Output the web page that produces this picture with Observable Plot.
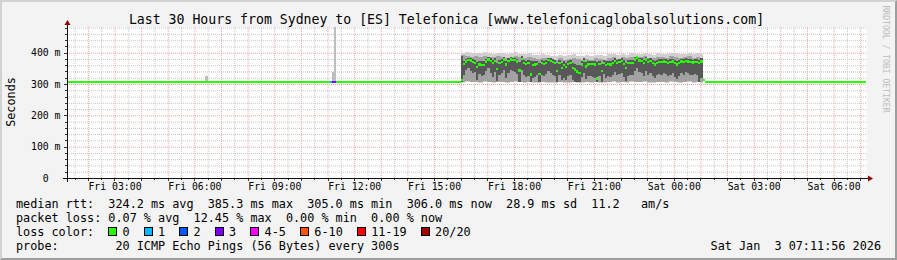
<!DOCTYPE html>
<html>
<head>
<meta charset="utf-8">
<script src="https://cdn.jsdelivr.net/npm/d3@7"></script>
<script src="https://cdn.jsdelivr.net/npm/@observablehq/plot@0.6"></script>
<style>
  html, body { margin: 0; padding: 0; background: #f3f3f3; }
  #wrap { position: relative; width: 897px; height: 260px; background: #f3f3f3; overflow: hidden;
          font-family: "DejaVu Sans Mono", monospace; color: #000; }
  #chart { position: absolute; left: 0; top: 0; }
  #frame { position: absolute; left: 0; top: 0; width: 897px; height: 260px; box-sizing: border-box;
           border-top: 2px solid #d2d2d2; border-left: 2px solid #d2d2d2;
           border-right: 2px solid #9e9e9e; border-bottom: 2px solid #9e9e9e; pointer-events: none; }
  #title { position: absolute; left: -2px; width: 897px; top: 13px; text-align: center;
           font-size: 13.2px; line-height: 13.2px; white-space: pre; }
  .lg { position: absolute; left: 16px; font-size: 11.8px; line-height: 14px; white-space: pre; }
  #stamp { position: absolute; right: 16px; top: 239px; font-size: 11.8px; line-height: 14px; white-space: pre; }
  #ylab { position: absolute; left: 11px; top: 102px; transform: translate(-50%, -50%) rotate(-90deg);
          font-size: 11.8px; white-space: nowrap; }
  #mark { position: absolute; left: 886px; top: 59px; transform: translate(-50%, -50%) rotate(90deg);
          font-size: 8.1px; color: #bcbcbc; white-space: nowrap; }
  .item { display: inline-block; margin-right: 2ch; }
  .box { display: inline-block; width: 7px; height: 7px; border: 1px solid #000; margin-right: calc(2ch - 9px); }
</style>
</head>
<body>
<div id="wrap">
  <div id="chart"></div>
  <div id="title"></div>
  <div id="ylab"></div>
  <div id="mark"></div>
  <div id="l1" class="lg" style="top:197px"></div>
  <div id="l2" class="lg" style="top:211px"></div>
  <div id="l3" class="lg" style="top:225px"></div>
  <div id="l4" class="lg" style="top:239px"></div>
  <div id="stamp"></div>
  <div id="frame"></div>
</div>
<script>
// ---------------- data ----------------
const titleText = "Last 30 Hours from Sydney to [ES] Telefonica [www.telefonicaglobalsolutions.com]";
const yLabel = "Seconds";
const watermark = "RRDTOOL / TOBI OETIKER";
const stampText = "Sat Jan  3 07:11:56 2026";

const domainStart = "2026-01-02T01:13";
const domainEnd = "2026-01-03T07:13";

const yTicks = [0, 100, 200, 300, 400];

// flat median runs (ms) with lost pings out of 20
const runStart = ["2026-01-02T01:13", "2026-01-02T11:05", "2026-01-02T11:10", "2026-01-02T11:20", "2026-01-03T01:05", "2026-01-03T01:10"];
const runEnd   = ["2026-01-02T11:05", "2026-01-02T11:10", "2026-01-02T11:20", "2026-01-02T16:00", "2026-01-03T01:10", "2026-01-03T07:13"];
const runMs    = [306.5, 307, 307, 306.5, 312, 306.5];
const runLoss  = [0, 1, 3, 0, 0, 0];

// high-latency period: median and inner quartiles every 5 minutes from 16:00
const evStart = "2026-01-02T16:00";
const evMedian = [
  312, 363, 372, 376, 375, 371, 368, 355, 362, 360,
  361, 372, 378, 373, 366, 373, 347, 366, 370, 378,
  362, 373, 378, 376, 376, 372, 343, 380, 368, 365,
  366, 330, 360, 362, 365, 331, 366, 365, 368, 376,
  373, 370, 368, 341, 368, 352, 360, 355, 363, 366,
  352, 346, 340, 336, 362, 373, 356, 362, 363, 363,
  362, 318, 363, 341, 368, 360, 363, 362, 368, 373,
  368, 370, 373, 365, 352, 366, 368, 368, 378, 385,
  375, 373, 366, 378, 370, 373, 366, 362, 368, 370,
  370, 372, 370, 368, 370, 372, 366, 362, 368, 372,
  370, 374, 372, 370, 369, 371, 370, 368, 372
];
const evQ75 = [
  390, 374, 381, 384, 383, 380, 377, 370, 374, 372,
  372, 380, 386, 382, 376, 382, 366, 376, 379, 386,
  374, 382, 386, 384, 384, 381, 370, 388, 378, 375,
  376, 372, 372, 373, 375, 368, 376, 375, 378, 384,
  382, 379, 378, 366, 378, 368, 372, 368, 374, 376,
  368, 364, 362, 360, 374, 382, 370, 373, 374, 374,
  373, 370, 374, 365, 378, 372, 374, 373, 378, 382,
  378, 379, 382, 376, 368, 376, 378, 378, 386, 390,
  384, 382, 376, 386, 379, 382, 376, 373, 378, 379,
  379, 381, 379, 378, 379, 381, 376, 373, 378, 381,
  379, 383, 381, 379, 378, 380, 379, 378, 382
];
const evQ25 = [
  305, 330, 345, 350, 340, 335, 338, 312, 332, 325,
  328, 342, 350, 335, 322, 338, 310, 330, 336, 345,
  320, 336, 346, 340, 338, 332, 306, 345, 328, 322,
  325, 306, 318, 322, 328, 306, 330, 326, 332, 342,
  336, 330, 326, 308, 330, 312, 320, 314, 325, 330,
  312, 307, 306, 306, 322, 336, 315, 324, 325, 322,
  320, 306, 324, 306, 332, 318, 326, 322, 330, 338,
  328, 332, 336, 322, 310, 326, 330, 328, 342, 350,
  338, 334, 324, 342, 330, 336, 324, 318, 328, 332,
  330, 336, 332, 326, 330, 334, 322, 316, 326, 334,
  330, 338, 334, 330, 328, 332, 330, 306, 320
];

// outer smoke (ping spread) every 10 minutes from 16:00
const smokeHi = [
  400, 401, 399, 400, 398, 401, 399, 397, 400, 398,
  396, 399, 401, 397, 395, 398, 394, 392, 396, 393,
  391, 389, 394, 390, 392, 395, 391, 388, 393, 390,
  394, 392, 389, 395, 397, 393, 396, 394, 398, 395,
  397, 399, 396, 394, 398, 397, 395, 399, 398, 396,
  397, 399, 396, 398, 395
];
const smokeQ90 = [
  392, 390, 386, 389, 386, 391, 387, 385, 389, 386,
  384, 387, 390, 386, 383, 386, 382, 380, 384, 382,
  379, 377, 382, 378, 380, 383, 379, 376, 381, 378,
  383, 380, 377, 384, 386, 381, 385, 382, 387, 384,
  386, 388, 384, 382, 387, 386, 383, 388, 387, 384,
  385, 388, 384, 387, 384
];
const smokeQ10 = [
  305, 309, 307, 308, 306, 310, 307, 305, 308, 306,
  306, 308, 310, 306, 305, 307, 305, 305, 307, 306,
  305, 305, 306, 305, 306, 307, 305, 305, 306, 305,
  307, 306, 305, 307, 309, 306, 308, 306, 309, 307,
  308, 309, 306, 306, 308, 307, 306, 309, 308, 306,
  307, 309, 306, 308, 305
];
const smokeLo = [
  304, 305, 305, 305, 304, 305, 305, 304, 305, 305,
  304, 305, 305, 305, 304, 305, 304, 304, 305, 304,
  304, 304, 305, 304, 304, 305, 304, 304, 305, 304,
  305, 304, 304, 305, 305, 304, 305, 304, 305, 305,
  305, 305, 304, 304, 305, 305, 304, 305, 305, 304,
  305, 305, 304, 305, 304
];

// isolated smoke spikes (5-minute steps)
const spikeStart = ["2026-01-02T06:25", "2026-01-02T11:10", "2026-01-02T11:15"];
const spikeLo = [305, 305, 305];
const spikeHi = [325, 338, 482];

// legend
const lossLabels = ["0", "1", "2", "3", "4-5", "6-10", "11-19", "20/20"];
const lossMax    = [0, 1, 2, 3, 5, 10, 19, 20];
const lossColors = ["#26ff00", "#00b8ff", "#0059ff", "#7e00ff", "#ff00ff", "#ff5500", "#ff0000", "#a10000"];
const medianStats = [324.2, 385.3, 305.0, 306.0];   // avg, max, min, now (ms)
const medianSd = 28.9;
const medianAms = 11.2;
const lossStats = [0.07, 12.45, 0.00, 0.00];         // avg, max, min, now (%)
const probeText = "20 ICMP Echo Pings (56 Bytes) every 300s";

// ---------------- build ----------------
const parse = d3.timeParse("%Y-%m-%dT%H:%M");
const t0 = parse(domainStart), t1 = parse(domainEnd);
const lossColor = n => lossColors[lossMax.findIndex(m => n <= m)];

const med = runStart.map((s, i) => ({x1: parse(s), x2: parse(runEnd[i]), ms: runMs[i], loss: runLoss[i]}));
const ev0 = parse(evStart);
const core = [];
evMedian.forEach((v, i) => {
  const a = d3.timeMinute.offset(ev0, 5 * i);
  const b = d3.timeMinute.offset(a, 5);
  med.push({x1: a, x2: b, ms: v, loss: 0});
  core.push({x1: a, x2: b, q25: evQ25[i], q75: evQ75[i]});
});
const evEnd = d3.timeMinute.offset(ev0, 5 * evMedian.length);

const smoke = smokeHi.map((hi, i) => {
  const a = d3.timeMinute.offset(ev0, 10 * i);
  const b = d3.timeMinute.offset(a, 10);
  return {x1: a, x2: b > evEnd ? evEnd : b, lo: smokeLo[i], q10: smokeQ10[i], q90: smokeQ90[i], hi};
});
const spikes = spikeStart.map((s, i) => ({x1: parse(s), x2: d3.timeMinute.offset(parse(s), 5), lo: spikeLo[i], hi: spikeHi[i]}));

const minorX = d3.timeMinute.every(30).range(t0, t1).filter(d => d.getMinutes() !== 0);
const majorX = d3.timeHour.range(t0, t1);
const labelX = d3.timeHour.every(3).range(t0, t1);
const minorY = d3.range(20, 481, 20).filter(v => v % 100 !== 0);
const majorY = yTicks.filter(v => v > 0);

const fmt = d3.timeFormat("%a %H:%M");

function axes(index, scales, values, dim) {
  const {x, y} = scales;
  const g = d3.create("svg:g");
  const L = dim.marginLeft, R = dim.width - dim.marginRight, B = dim.height - dim.marginBottom, T = dim.marginTop;
  const tick = "#333";
  for (const v of minorY) g.append("line").attr("x1", L - 2).attr("x2", L).attr("y1", Math.round(y(v)) + 0.5).attr("y2", Math.round(y(v)) + 0.5).attr("stroke", tick);
  for (const v of majorY) g.append("line").attr("x1", L - 3).attr("x2", L).attr("y1", Math.round(y(v)) + 0.5).attr("y2", Math.round(y(v)) + 0.5).attr("stroke", tick);
  for (const d of minorX) g.append("line").attr("x1", Math.round(x(d)) + 0.5).attr("x2", Math.round(x(d)) + 0.5).attr("y1", B).attr("y2", B + 2).attr("stroke", tick);
  for (const d of majorX) g.append("line").attr("x1", Math.round(x(d)) + 0.5).attr("x2", Math.round(x(d)) + 0.5).attr("y1", B).attr("y2", B + 3).attr("stroke", tick);
  g.append("line").attr("x1", L - 4).attr("x2", R + 2).attr("y1", B + 0.5).attr("y2", B + 0.5).attr("stroke", "#111");
  g.append("line").attr("x1", L + 0.5).attr("x2", L + 0.5).attr("y1", B + 4).attr("y2", T - 3).attr("stroke", "#111");
  g.append("path").attr("d", `M${R + 2},${B - 2.5}L${R + 7},${B + 0.5}L${R + 2},${B + 3.5}Z`).attr("fill", "#8b0000");
  g.append("path").attr("d", `M${L - 2.5},${T - 2}L${L + 0.5},${T - 7}L${L + 3.5},${T - 2}Z`).attr("fill", "#8b0000");
  return g.node();
}

const chart = Plot.plot({
  width: 897,
  height: 260,
  marginLeft: 67,
  marginRight: 31,
  marginTop: 27,
  marginBottom: 82,
  style: {background: "transparent", fontFamily: "DejaVu Sans Mono", fontSize: "9.8px", color: "#000", overflow: "visible"},
  x: {type: "time", domain: [t0, t1], ticks: labelX, tickFormat: fmt, tickSize: 0, tickPadding: 5, label: null},
  y: {domain: [0, 482], ticks: yTicks, tickFormat: d => d === 0 ? "0\u00a0\u00a0" : `${d} m`, tickSize: 0, tickPadding: 7, label: null},
  color: {type: "identity"},
  marks: [
    Plot.frame({fill: "white", stroke: "none"}),
    Plot.ruleX(minorX, {stroke: "#c6c6c6", strokeDasharray: "1,1"}),
    Plot.ruleY(minorY, {stroke: "#c6c6c6", strokeDasharray: "1,1"}),
    Plot.ruleX(majorX, {stroke: "#f4a3a3", strokeDasharray: "1,1"}),
    Plot.ruleY(majorY, {stroke: "#f4a3a3", strokeDasharray: "1,1"}),
    Plot.rect(spikes, {x1: "x1", x2: "x2", y1: "lo", y2: "hi", fill: "#bdbdbd", shapeRendering: "crispEdges"}),
    Plot.rect(smoke, {x1: "x1", x2: "x2", y1: "lo", y2: "hi", fill: "#d0d0d0", shapeRendering: "crispEdges"}),
    Plot.rect(smoke, {x1: "x1", x2: "x2", y1: "q10", y2: "q90", fill: "#a2a2a2", shapeRendering: "crispEdges"}),
    Plot.rect(core, {x1: "x1", x2: "x2", y1: "q25", y2: "q75", fill: "#585858", shapeRendering: "crispEdges"}),
    Plot.rect(med, {x1: "x1", x2: "x2", y1: d => d.ms - 3.6, y2: d => d.ms + 3.6, fill: d => lossColor(d.loss), shapeRendering: "crispEdges"}),
    axes
  ]
});
document.getElementById("chart").appendChild(chart);

document.getElementById("title").textContent = titleText;
document.getElementById("ylab").textContent = yLabel;
document.getElementById("mark").textContent = watermark;
document.getElementById("stamp").textContent = stampText;

const f1 = v => v.toFixed(1), f2 = v => v.toFixed(2);
document.getElementById("l1").textContent =
  `median rtt:  ${f1(medianStats[0])} ms avg  ${f1(medianStats[1])} ms max  ${f1(medianStats[2])} ms min  ${f1(medianStats[3])} ms now  ${f1(medianSd)} ms sd  ${f1(medianAms)}   am/s`;
document.getElementById("l2").textContent =
  `packet loss: ${f2(lossStats[0])} % avg  ${f2(lossStats[1])} % max  ${f2(lossStats[2])} % min  ${f2(lossStats[3])} % now`;
document.getElementById("l4").textContent = `probe:        ${probeText}`;

const l3 = document.getElementById("l3");
const head = document.createElement("span");
head.textContent = "loss color:  ";
l3.appendChild(head);
lossLabels.forEach((lab, i) => {
  const item = document.createElement("span");
  item.className = "item";
  const b = document.createElement("span");
  b.className = "box";
  b.style.background = lossColors[i];
  const t = document.createElement("span");
  t.textContent = lab;
  item.append(b, t);
  l3.appendChild(item);
});
</script>
</body>
</html>
